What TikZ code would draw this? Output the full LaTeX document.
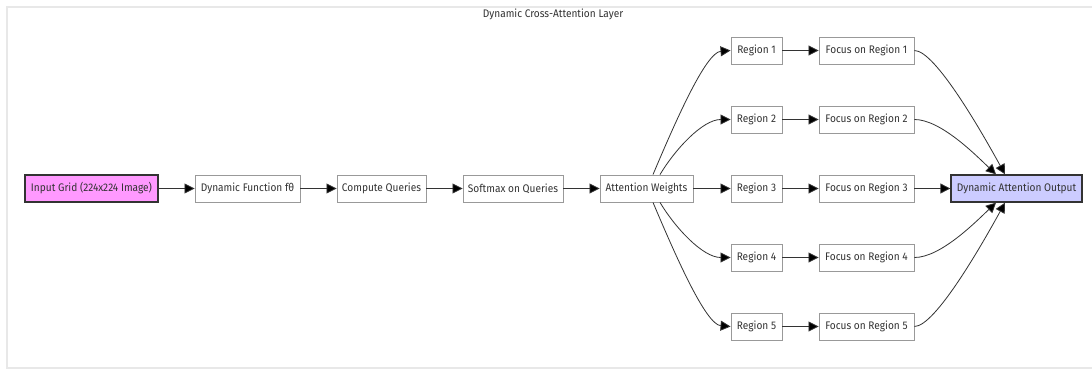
\documentclass[tikz,border=0pt]{standalone}
\usepackage{fontspec}
\setmainfont{Fira Sans}[FakeStretch=0.92]
\usetikzlibrary{arrows.meta}
\definecolor{txt}{HTML}{333333}
\definecolor{bordergray}{HTML}{999999}
\definecolor{framegray}{HTML}{E8E8E8}
\definecolor{pinkfill}{HTML}{FF99FF}
\definecolor{lavfill}{HTML}{CCCCFF}
\tikzset{
  box/.style={draw=bordergray, line width=0.9pt, fill=white, text=txt, minimum height=27pt, inner sep=0pt, font=\fontsize{11}{13}\selectfont},
  hibox/.style={box, draw=txt, line width=1.3pt},
  arr/.style={draw=txt, line width=0.8pt, -{Triangle[length=10pt,width=10pt,fill=black]}},
}
\begin{document}
\begin{tikzpicture}[x=1pt,y=-1pt]
\useasboundingbox (0,0) rectangle (1092,369);
\fill[white] (0,0) rectangle (1092,369);
\draw[framegray, line width=1.2pt] (1100,7) -- (7,7) -- (7,368) -- (1100,368);
\node[text=txt, font=\fontsize{11}{13}\selectfont] (title) at (553,14) {Dynamic Cross-Attention Layer};

\node[hibox, fill=pinkfill, minimum width=133pt] (in) at (91.5,188.5) {Input Grid (224x224 Image)};
\node[box, minimum width=105pt] (df) at (247.5,188.5) {Dynamic Function fθ};
\node[box, minimum width=89pt] (cq) at (381.5,188.5) {Compute Queries};
\node[box, minimum width=100pt] (sm) at (513,188.5) {Softmax on Queries};
\node[box, minimum width=93pt] (aw) at (646.5,188.5) {Attention Weights};

\node[box, minimum width=51pt] (r1) at (756.5,50.5) {Region 1};
\node[box, minimum width=51pt] (r2) at (756.5,119.5) {Region 2};
\node[box, minimum width=51pt] (r3) at (756.5,188.5) {Region 3};
\node[box, minimum width=51pt] (r4) at (756.5,257.5) {Region 4};
\node[box, minimum width=51pt] (r5) at (756.5,326.5) {Region 5};

\node[box, minimum width=95pt] (f1) at (866.5,50.5) {Focus on Region 1};
\node[box, minimum width=95pt] (f2) at (866.5,119.5) {Focus on Region 2};
\node[box, minimum width=95pt] (f3) at (866.5,188.5) {Focus on Region 3};
\node[box, minimum width=95pt] (f4) at (866.5,257.5) {Focus on Region 4};
\node[box, minimum width=95pt] (f5) at (866.5,326.5) {Focus on Region 5};

\node[hibox, fill=lavfill, minimum width=131pt] (out) at (1016.5,188.5) {Dynamic Attention Output};

\draw[arr] (in) -- (df);
\draw[arr] (df) -- (cq);
\draw[arr] (cq) -- (sm);
\draw[arr] (sm) -- (aw);

\draw[arr] ([xshift=6.5pt]aw.north) .. controls +(22,-52) and +(-25,2) .. (r1.west);
\draw[arr] ([xshift=13.5pt]aw.north) .. controls +(15,-25) and +(-28,0) .. (r2.west);
\draw[arr] (aw) -- (r3);
\draw[arr] ([xshift=13.5pt]aw.south) .. controls +(15,25) and +(-28,0) .. (r4.west);
\draw[arr] ([xshift=6.5pt]aw.south) .. controls +(22,52) and +(-25,-2) .. (r5.west);

\draw[arr] (r1) -- (f1);
\draw[arr] (r2) -- (f2);
\draw[arr] (r3) -- (f3);
\draw[arr] (r4) -- (f4);
\draw[arr] (r5) -- (f5);

\draw[arr] (f1.east) .. controls +(21,0) and +(-22,-40) .. ([xshift=-11.5pt]out.north);
\draw[arr] (f2.east) .. controls +(26,0) and +(-21,-20) .. ([xshift=-20.5pt]out.north);
\draw[arr] (f3) -- (out);
\draw[arr] (f4.east) .. controls +(26,0) and +(-21,20) .. ([xshift=-20.5pt]out.south);
\draw[arr] (f5.east) .. controls +(21,0) and +(-22,40) .. ([xshift=-11.5pt]out.south);
\end{tikzpicture}
\end{document}
